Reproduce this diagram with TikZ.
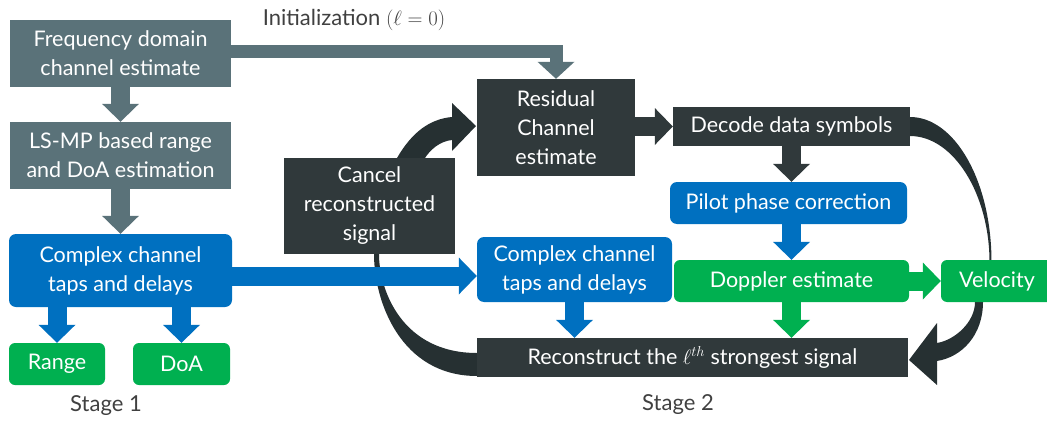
\documentclass[tikz,border=0pt]{standalone}
\usepackage[no-math]{fontspec}
\setmainfont{Lato}
\usetikzlibrary{arrows.meta,calc}
\definecolor{slatec}{HTML}{5A7279}
\definecolor{darkc}{HTML}{30393B}
\definecolor{curvec}{HTML}{263032}
\definecolor{bluec}{HTML}{0070C0}
\definecolor{greenc}{HTML}{00B050}
\definecolor{labc}{HTML}{404040}
\pgfdeclarelayer{bg}
\pgfsetlayers{bg,main}
\begin{document}
\begin{tikzpicture}[x=1pt,y=-1pt,
  box/.style={draw=none, text=white, align=center, inner sep=0pt, font=\fontsize{21.5}{29}\selectfont},
  slatebox/.style={box, fill=slatec},
  darkbox/.style={box, fill=darkc},
  bluebox/.style={box, fill=bluec, rounded corners=7pt},
  greenbox/.style={box, fill=greenc, rounded corners=6pt},
  lab/.style={text=labc, inner sep=0pt, font=\fontsize{22}{26}\selectfont},
  barrow/.style={line width=19pt, -{Triangle[length=18pt,width=37pt,line width=0pt]}},
  iarrow/.style={line width=13pt, line join=miter, -{Triangle[length=17pt,width=37pt,line width=0pt]}},
  crescent/.style={fill=curvec, draw=none}
]
\useasboundingbox (0,0) rectangle (1047,423);

% Stage 1
\node[slatebox, minimum width=221pt, minimum height=67pt] (freq) at (120.5,53.5) {Frequency domain\\channel estimate};
\node[slatebox, minimum width=221pt, minimum height=67pt] (ls) at (120.5,155.5) {LS-MP based range\\and DoA estimation};
\node[bluebox, minimum width=223pt, minimum height=73pt] (cx1) at (120.5,270.5) {Complex channel\\taps and delays};
\node[greenbox, minimum width=96pt, minimum height=42pt] (range) at (57,364) {Range};
\node[greenbox, minimum width=97pt, minimum height=42pt] (doa) at (181.5,364) {DoA};
\node[lab] (stage1) at (106,406) {Stage 1};

% Stage 2
\node[lab] (init) at (354,20) {Initialization $(\ell = 0)$};
\node[darkbox, minimum width=158pt, minimum height=97pt] (res) at (556,127.5) {Residual\\Channel\\estimate};
\node[darkbox, minimum width=171pt, minimum height=96pt] (cancel) at (369.5,206) {Cancel\\reconstructed\\signal};
\node[darkbox, minimum width=237pt, minimum height=39pt] (dec) at (791.5,126.5) {Decode data symbols};
\node[bluebox, minimum width=237pt, minimum height=42pt] (pilot) at (788.5,203) {Pilot phase correction};
\node[bluebox, minimum width=195pt, minimum height=65pt] (cx2) at (574.5,269.5) {Complex channel\\taps and delays};
\node[greenbox, minimum width=235pt, minimum height=42pt] (dop) at (791.5,281) {Doppler estimate};
\node[greenbox, minimum width=112pt, minimum height=42pt, text width=106pt] (vel) at (997,281) {Velocity};
\node[darkbox, minimum width=431pt, minimum height=39pt] (recon) at (692.5,357.5) {Reconstruct the $\ell^{th}$ strongest signal};
\node[lab] (stage2) at (678,405) {Stage 2};

\begin{pgfonlayer}{bg}
% curved feedback arrows
\fill[crescent] (477,376) .. controls (401,376) and (374,302) .. (374,254)
  -- (374,245) -- (379,245) -- (379,254)
  .. controls (379,290) and (402,353) .. (477,353) -- cycle;
\fill[crescent] (392,168) -- (397,158) .. controls (412,132) and (430,119) .. (452,117)
  -- (452,103) -- (476,126) -- (452,151) -- (452,140)
  .. controls (440,141) and (430,150) .. (425,158) -- (420,168) -- cycle;
\fill[crescent] (910,117) .. controls (954.7,117) and (991.5,181) .. (991.5,262)
  -- (989.5,262) .. controls (989.5,195) and (954,136) .. (910,136) -- cycle;
\fill[crescent] (983,295) -- (983,302) .. controls (983,335) and (962,357) .. (937,361)
  -- (937,385) -- (909,360) -- (937,323) -- (937,343)
  .. controls (955,340) and (975,322) .. (975,302) -- (975,295) -- cycle;

% block arrows
\draw[barrow, slatec] (freq.south) -- (ls.north);
\draw[barrow, slatec] (ls.south) -- (cx1.north);
\draw[barrow, bluec] (range.north |- cx1.south) -- (range.north);
\draw[barrow, bluec] (doa.north |- cx1.south) -- (doa.north);
\coordinate (b1) at ($(cx1.east)+(0,5.5)$);
\draw[barrow, bluec] (b1) -- (b1 -| cx2.west);
\coordinate (i1) at ($(freq.east)+(0,-2)$);
\draw[iarrow, slatec] (i1) -| (res.north);
\draw[barrow, darkc] (res.east |- dec.west) -- (dec.west);
\draw[barrow, darkc] (dec.south) -- (dec.south |- pilot.north);
\draw[barrow, bluec] (pilot.south -| dop.north) -- (dop.north);
\draw[barrow, greenc] (dop.south) -- (dop.south |- recon.north);
\draw[barrow, bluec] (cx2.south) -- (cx2.south |- recon.north);
\draw[barrow, greenc] (dop.east) -- (dop.east -| vel.west);
\end{pgfonlayer}
\end{tikzpicture}
\end{document}
